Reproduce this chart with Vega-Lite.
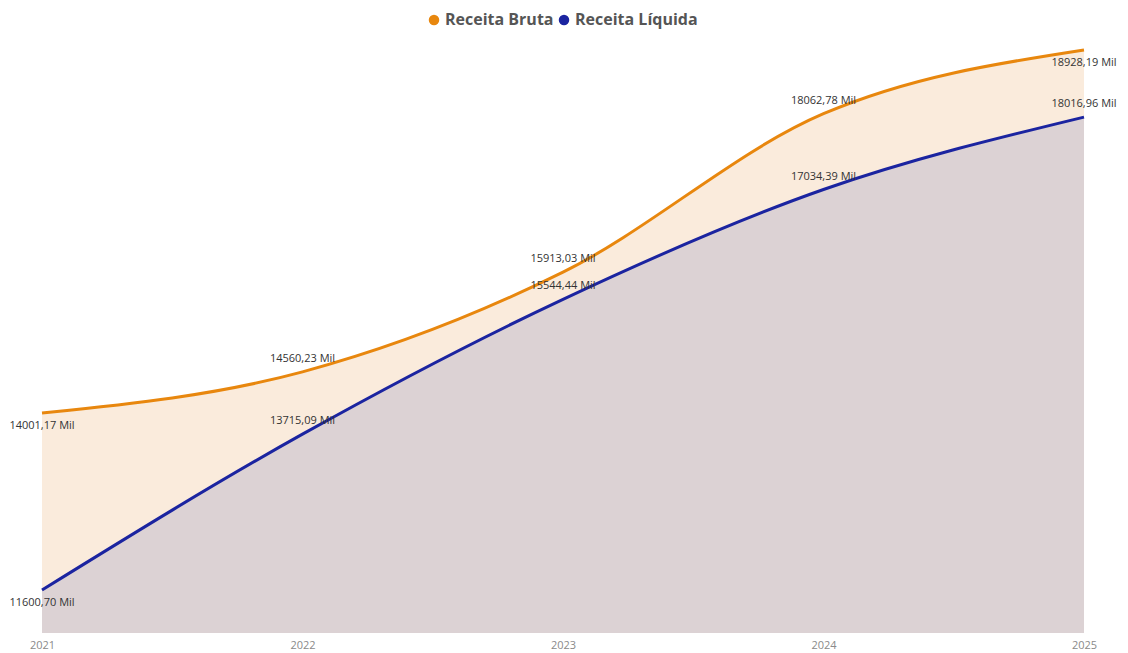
{
  "$schema": "https://vega.github.io/schema/vega-lite/v6.json",
  "width": 1042,
  "height": 593,
  "autosize": {"type": "none"},
  "padding": {"left": 42, "top": 40, "right": 44, "bottom": 20},
  "background": "white",
  "config": {
    "view": {"stroke": null},
    "font": "Open Sans"
  },
  "data": {
    "values": [
      {"ano": "2021", "serie": "Receita Bruta", "valor": 14001.17},
      {"ano": "2022", "serie": "Receita Bruta", "valor": 14560.23},
      {"ano": "2023", "serie": "Receita Bruta", "valor": 15913.03},
      {"ano": "2024", "serie": "Receita Bruta", "valor": 18062.78},
      {"ano": "2025", "serie": "Receita Bruta", "valor": 18928.19},
      {"ano": "2021", "serie": "Receita Líquida", "valor": 11600.70},
      {"ano": "2022", "serie": "Receita Líquida", "valor": 13715.09},
      {"ano": "2023", "serie": "Receita Líquida", "valor": 15544.44},
      {"ano": "2024", "serie": "Receita Líquida", "valor": 17034.39},
      {"ano": "2025", "serie": "Receita Líquida", "valor": 18016.96}
    ]
  },
  "transform": [
    {"calculate": "replace(format(datum.valor, '.2f'), '.', ',') + ' Mil'", "as": "rotulo"}
  ],
  "encoding": {
    "x": {
      "field": "ano", "type": "ordinal",
      "scale": {"type": "point", "padding": 0},
      "axis": {"title": null, "labelAngle": 0, "domain": false, "ticks": false, "grid": false, "labelColor": "#8a8a8a", "labelFontSize": 11, "labelPadding": 6, "labelFont": "Open Sans"}
    },
    "y": {
      "field": "valor", "type": "quantitative",
      "scale": {"domain": [11017, 19063], "zero": false, "nice": false},
      "axis": null
    }
  },
  "layer": [
    {
      "transform": [{"filter": "datum.serie == 'Receita Bruta'"}],
      "mark": {"type": "area", "interpolate": "monotone", "color": "#FAEBDC"},
      "encoding": {"y": {"field": "valor", "type": "quantitative", "stack": null}}
    },
    {
      "transform": [{"filter": "datum.serie == 'Receita Líquida'"}],
      "mark": {"type": "area", "interpolate": "monotone", "color": "#DCD2D4"},
      "encoding": {"y": {"field": "valor", "type": "quantitative", "stack": null}}
    },
    {
      "mark": {"type": "line", "interpolate": "monotone", "strokeWidth": 3},
      "encoding": {
        "color": {
          "field": "serie", "type": "nominal",
          "scale": {"domain": ["Receita Bruta", "Receita Líquida"], "range": ["#E8870E", "#1B24A0"]},
          "legend": {
            "title": null, "orient": "none", "direction": "horizontal",
            "legendX": 384, "legendY": -28,
            "symbolType": "circle", "symbolSize": 110, "symbolStrokeWidth": 0,
            "labelFontSize": 16, "labelFontWeight": "bold", "labelColor": "#555555",
            "labelFont": "Open Sans", "columnPadding": 2, "labelOffset": 3,
            "encode": {"symbols": {"update": {"fill": {"scale": "color", "field": "value"}, "fillOpacity": {"value": 1}}}}
          }
        }
      }
    },
    {
      "transform": [{"filter": "(datum.serie == 'Receita Bruta' && (datum.ano == '2021' || datum.ano == '2025')) || (datum.serie == 'Receita Líquida' && datum.ano == '2021')"}],
      "mark": {"type": "text", "dy": 13, "fontSize": 11, "color": "#333333", "font": "Open Sans"},
      "encoding": {"text": {"field": "rotulo"}}
    },
    {
      "transform": [{"filter": "!((datum.serie == 'Receita Bruta' && (datum.ano == '2021' || datum.ano == '2025')) || (datum.serie == 'Receita Líquida' && datum.ano == '2021'))"}],
      "mark": {"type": "text", "dy": -13, "fontSize": 11, "color": "#333333", "font": "Open Sans"},
      "encoding": {"text": {"field": "rotulo"}}
    }
  ]
}
